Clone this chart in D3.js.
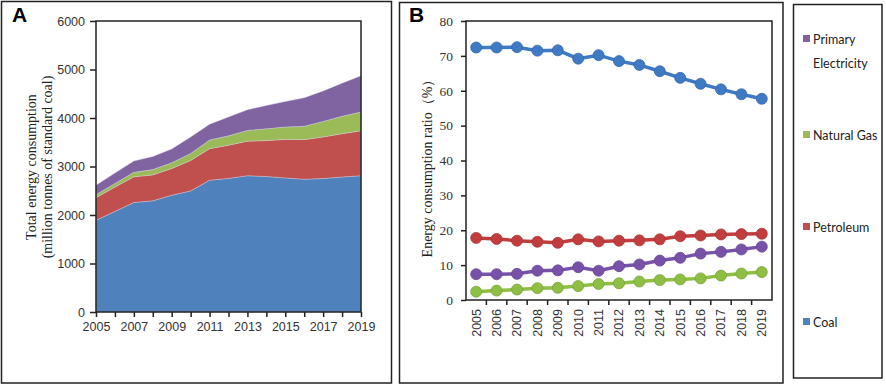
<!DOCTYPE html>
<html lang="en">
<head>
    <meta charset="UTF-8">
    <title>Energy consumption structure 2005-2019</title>
    <script src="https://d3js.org/d3.v7.min.js"></script>
    <style>
        body { margin: 0; background: #fff; }
        .frame { fill: none; stroke: #222; stroke-width: 1.5; }
    </style>
</head>
<body>
    <svg id="chart" width="886" height="386"></svg>

    <script>
        // years and series (panel A: million tonnes of standard coal)
        var years = [2005, 2006, 2007, 2008, 2009, 2010, 2011, 2012, 2013, 2014, 2015, 2016, 2017, 2018, 2019];
        var coalAmount = [1892, 2074, 2258, 2292, 2407, 2496, 2717, 2755, 2810, 2793, 2765, 2737, 2753, 2784, 2810];
        var petroleumAmount = [465, 501, 529, 535, 551, 628, 650, 684, 713, 741, 794, 817, 857, 892, 925];
        var gasAmount = [63, 77, 93, 109, 118, 144, 178, 193, 221, 243, 256, 274, 319, 359, 390];
        var electricityAmount = [193, 212, 234, 269, 286, 339, 325, 390, 425, 481, 525, 587, 629, 684, 745];

        // panel B: share of total (%)
        var coalShare = [72.4, 72.4, 72.5, 71.5, 71.6, 69.2, 70.2, 68.5, 67.4, 65.6, 63.7, 62.0, 60.4, 59.0, 57.7];
        var petroleumShare = [17.8, 17.5, 17.0, 16.7, 16.4, 17.4, 16.8, 17.0, 17.1, 17.4, 18.3, 18.5, 18.8, 18.9, 19.0];
        var gasShare = [2.4, 2.7, 3.0, 3.4, 3.5, 4.0, 4.6, 4.8, 5.3, 5.7, 5.9, 6.2, 7.0, 7.6, 8.0];
        var electricityShare = [7.4, 7.4, 7.5, 8.4, 8.5, 9.4, 8.4, 9.7, 10.2, 11.3, 12.1, 13.3, 13.8, 14.5, 15.3];

        var keys = ["Coal", "Petroleum", "Natural Gas", "Primary Electricity"];
        var areaColor = { "Coal": "#4F81BD", "Petroleum": "#C0504D", "Natural Gas": "#9BBB59", "Primary Electricity": "#8064A2" };
        var lineColor = { "Coal": "#3F7AC4", "Petroleum": "#C23D3E", "Natural Gas": "#8EBE43", "Primary Electricity": "#7852A9" };

        var svg = d3.select("#chart");

        // outer frames
        svg.append("rect").attr("class", "frame").attr("x", 1.5).attr("y", 1.5).attr("width", 390).attr("height", 381.5);
        svg.append("rect").attr("class", "frame").attr("x", 399.5).attr("y", 2.5).attr("width", 383.5).attr("height", 380.5);
        svg.append("rect").attr("class", "frame").attr("x", 793.5).attr("y", 4.5).attr("width", 88.5).attr("height", 373.5);

        // ---------- Panel A: stacked area ----------
        var tableA = years.map(function(y, i) {
            return { year: y, "Coal": coalAmount[i], "Petroleum": petroleumAmount[i],
                     "Natural Gas": gasAmount[i], "Primary Electricity": electricityAmount[i] };
        });
        var stacked = d3.stack().keys(keys)(tableA);

        var xA = d3.scaleLinear().domain([2005, 2019]).range([96, 361]);
        var yA = d3.scaleLinear().domain([0, 6000]).range([312, 21]);

        var area = d3.area()
            .x(function(d) { return xA(d.data.year); })
            .y0(function(d) { return yA(d[0]); })
            .y1(function(d) { return yA(d[1]); });

        svg.append("g").selectAll("path")
            .data(stacked)
            .enter().append("path")
            .attr("d", area)
            .attr("fill", function(d) { return areaColor[d.key]; })
            .attr("stroke", "#d9d9e8")
            .attr("stroke-width", 0.6)
            .attr("stroke-opacity", 0.6);

        svg.append("rect").attr("class", "frame").attr("x", 96).attr("y", 21).attr("width", 265).attr("height", 291);

        var axA_y = svg.append("g")
            .attr("transform", "translate(96,0)")
            .call(d3.axisLeft(yA).tickValues([0, 1000, 2000, 3000, 4000, 5000, 6000]).tickSize(6).tickPadding(5).tickFormat(d3.format("d")));
        var axA_x = svg.append("g")
            .attr("transform", "translate(0,312)")
            .call(d3.axisBottom(xA).tickValues(years).tickSize(5).tickPadding(5)
                .tickFormat(function(d) { return d % 2 === 1 ? d : ""; }));
        [axA_y, axA_x].forEach(function(ax) {
            ax.select(".domain").remove();
            ax.selectAll("line").attr("stroke", "#222").attr("stroke-width", 1.5);
            ax.selectAll("text").attr("fill", "#333").style("font-family", "'Liberation Sans', Arial, sans-serif").style("font-size", "12.5px");
        });

        var titleA = svg.append("text")
            .attr("transform", "translate(39,167) rotate(-90)")
            .attr("text-anchor", "middle")
            .style("font-family", "'Liberation Serif', 'Times New Roman', serif")
            .style("font-size", "14px")
            .attr("fill", "#222");
        titleA.append("tspan").attr("x", 0).attr("dy", "-0.25em").text("Total energy consumption");
        titleA.append("tspan").attr("x", 0).attr("dy", "1.15em").text("(million  tonnes of standard coal)");

        svg.append("text").attr("x", 12).attr("y", 22).text("A")
            .style("font-family", "'Liberation Sans', Arial, sans-serif").style("font-weight", "bold").style("font-size", "21px");

        // ---------- Panel B: share lines ----------
        var xB = d3.scaleBand().domain(years).range([466, 772]);
        var yB = d3.scaleLinear().domain([0, 80]).range([300, 21]);

        var shareSeries = [
            { key: "Coal", values: coalShare },
            { key: "Petroleum", values: petroleumShare },
            { key: "Primary Electricity", values: electricityShare },
            { key: "Natural Gas", values: gasShare }
        ];

        var line = d3.line()
            .x(function(d, i) { return xB(years[i]) + xB.bandwidth() / 2; })
            .y(function(d) { return yB(d); });

        var seriesG = svg.append("g").selectAll("g")
            .data(shareSeries)
            .enter().append("g");

        seriesG.append("path")
            .attr("d", function(d) { return line(d.values); })
            .attr("fill", "none")
            .attr("stroke", function(d) { return lineColor[d.key]; })
            .attr("stroke-width", 3.5);

        seriesG.selectAll("circle")
            .data(function(d) { return d.values.map(function(v, i) { return { key: d.key, v: v, i: i }; }); })
            .enter().append("circle")
            .attr("cx", function(d) { return xB(years[d.i]) + xB.bandwidth() / 2; })
            .attr("cy", function(d) { return yB(d.v); })
            .attr("r", 5.5)
            .attr("fill", function(d) { return lineColor[d.key]; })
            .attr("stroke", function(d) { return d3.color(lineColor[d.key]).darker(0.4); })
            .attr("stroke-width", 0.8);

        svg.append("rect").attr("class", "frame").attr("x", 466).attr("y", 21).attr("width", 306).attr("height", 279);

        var axB_y = svg.append("g")
            .attr("transform", "translate(466,0)")
            .call(d3.axisLeft(yB).tickValues([0, 10, 20, 30, 40, 50, 60, 70, 80]).tickSize(5).tickPadding(8));
        axB_y.select(".domain").remove();
        axB_y.selectAll("line").attr("stroke", "#222").attr("stroke-width", 1.5);
        axB_y.selectAll("text").attr("fill", "#333").style("font-family", "'Liberation Serif', 'Times New Roman', serif").style("font-size", "13.5px");

        // category ticks sit on band boundaries
        var axB_x = svg.append("g").attr("transform", "translate(0,300)");
        axB_x.selectAll("line")
            .data(years.slice(1))
            .enter().append("line")
            .attr("x1", function(d) { return xB(d); })
            .attr("x2", function(d) { return xB(d); })
            .attr("y1", 0).attr("y2", 5)
            .attr("stroke", "#222").attr("stroke-width", 1.5);
        axB_x.selectAll("text")
            .data(years)
            .enter().append("text")
            .attr("transform", function(d) { return "translate(" + (xB(d) + xB.bandwidth() / 2) + ",9) rotate(-90)"; })
            .attr("text-anchor", "end")
            .attr("dy", "0.35em")
            .attr("fill", "#333")
            .style("font-family", "'Liberation Sans', Arial, sans-serif")
            .style("font-size", "12.5px")
            .text(function(d) { return d; });

        svg.append("text")
            .attr("transform", "translate(432,165) rotate(-90)")
            .attr("text-anchor", "middle")
            .style("font-family", "'Liberation Serif', 'Times New Roman', serif")
            .style("font-size", "14px")
            .attr("fill", "#222")
            .text("Energy consumption ratio\uFF08%\uFF09");

        svg.append("text").attr("x", 409).attr("y", 22).text("B")
            .style("font-family", "'Liberation Sans', Arial, sans-serif").style("font-weight", "bold").style("font-size", "21px");

        // ---------- Legend ----------
        var legendItems = [
            { key: "Primary Electricity", lines: ["Primary", "Electricity"], y: 39 },
            { key: "Natural Gas", lines: ["Natural Gas"], y: 135 },
            { key: "Petroleum", lines: ["Petroleum"], y: 227 },
            { key: "Coal", lines: ["Coal"], y: 322 }
        ];
        var legend = svg.selectAll(".legend")
            .data(legendItems)
            .enter().append("g")
            .attr("class", "legend")
            .attr("transform", function(d) { return "translate(803," + d.y + ")"; });
        legend.append("rect")
            .attr("x", 0).attr("y", -4)
            .attr("width", 7).attr("height", 7)
            .attr("fill", function(d) { return areaColor[d.key]; });
        legend.each(function(d) {
            var t = d3.select(this).append("text")
                .attr("fill", "#222")
                .style("font-family", "Lato, sans-serif")
                .style("font-size", "12.5px");
            d.lines.forEach(function(s, i) {
                t.append("tspan").attr("x", 10).attr("dy", i === 0 ? "0.38em" : "1.9em").text(s);
            });
        });
    </script>
</body>
</html>
